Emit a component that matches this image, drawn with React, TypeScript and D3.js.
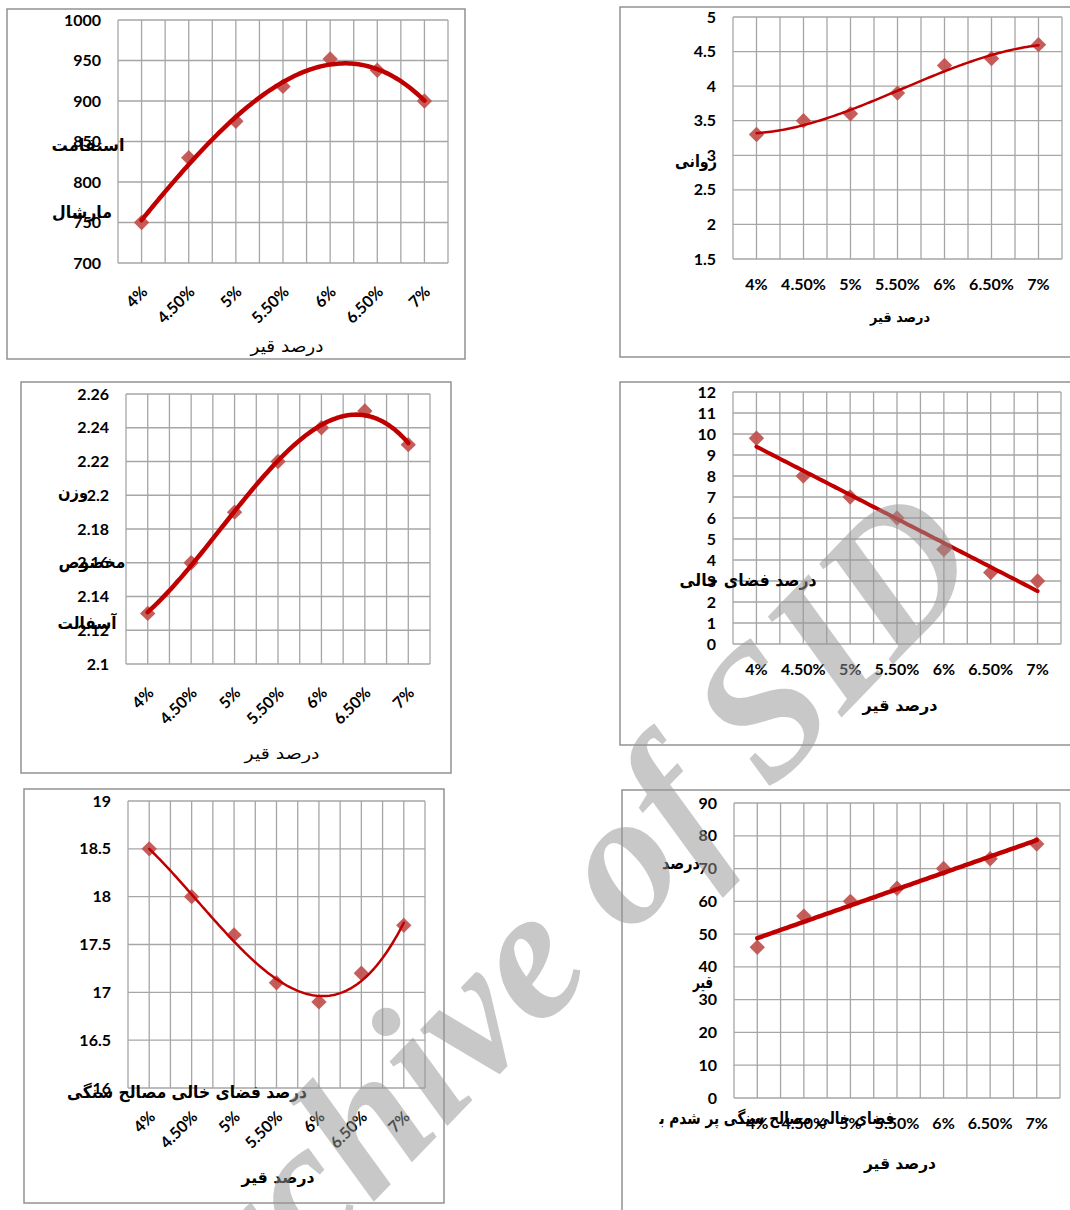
import React from 'react';
import * as d3 from 'd3';

// bitumen content (x axis of every chart)
const categories = ['4%', '4.50%', '5%', '5.50%', '6%', '6.50%', '7%'];

const marshallStability = [750, 830, 875, 918, 952, 938, 900];
const flowValues = [3.3, 3.5, 3.6, 3.9, 4.3, 4.4, 4.6];
const bulkDensity = [2.13, 2.16, 2.19, 2.22, 2.24, 2.25, 2.23];
const airVoids = [9.8, 8.0, 7.0, 6.0, 4.5, 3.4, 3.0];
const vmaValues = [18.5, 18.0, 17.6, 17.1, 16.9, 17.2, 17.7];
const vfaValues = [46, 55.5, 60, 64, 70, 73, 77.5];

// y tick labels
const stabilityTicks = [700, 750, 800, 850, 900, 950, 1000];
const flowTicks = [1.5, 2, 2.5, 3, 3.5, 4, 4.5, 5];
const densityTicks = [2.1, 2.12, 2.14, 2.16, 2.18, 2.2, 2.22, 2.24, 2.26];
const voidTicks = [0, 1, 2, 3, 4, 5, 6, 7, 8, 9, 10, 11, 12];
const vmaTicks = [16, 16.5, 17, 17.5, 18, 18.5, 19];
const vfaTicks = [0, 10, 20, 30, 40, 50, 60, 70, 80, 90];

const X_TITLE = 'درصد قیر';

const LATIN = 'Lato, "Open Sans", sans-serif';
const PERSIAN = '"DejaVu Sans", sans-serif';
const TREND = '#C00000';
const MARKER = 'rgba(192,80,77,0.92)';
const GRID = '#a6a6a6';

// least squares polynomial (trendline), x = category index
function polyFit(ys: number[], degree: number): number[] {
  const m = degree + 1;
  const A: number[][] = Array.from({ length: m }, () => new Array(m + 1).fill(0));
  ys.forEach((v, i) => {
    for (let r = 0; r < m; r++) {
      for (let c = 0; c < m; c++) A[r][c] += Math.pow(i, r + c);
      A[r][m] += Math.pow(i, r) * v;
    }
  });
  for (let p = 0; p < m; p++) {
    let best = p;
    for (let r = p + 1; r < m; r++) if (Math.abs(A[r][p]) > Math.abs(A[best][p])) best = r;
    [A[p], A[best]] = [A[best], A[p]];
    for (let r = 0; r < m; r++) {
      if (r === p) continue;
      const f = A[r][p] / A[p][p];
      for (let c = p; c <= m; c++) A[r][c] -= f * A[p][c];
    }
  }
  return A.map((row, i) => row[m] / row[i]);
}

type Label = { text: string; x: number; y: number; w: number; size?: number; bold?: boolean };

interface PanelCfg {
  frame: [number, number, number, number];
  plot: { x0: number; x1: number; y0: number; y1: number };
  values: number[];
  ticks: number[];
  degree: number;
  lineWidth: number;
  rotated: boolean;
  xTitle: Label;
  yTitles: Label[];
}

const panels: PanelCfg[] = [
  {
    frame: [7, 9, 458, 350],
    plot: { x0: 118, x1: 448, y0: 20, y1: 263 },
    values: marshallStability, ticks: stabilityTicks, degree: 3, lineWidth: 4.5, rotated: true,
    xTitle: { text: X_TITLE, x: 287, y: 346, w: 73, size: 17, bold: false },
    yTitles: [
      { text: 'استقامت', x: 88, y: 145, w: 73 },
      { text: 'مارشال', x: 82, y: 212, w: 60 },
    ],
  },
  {
    frame: [620, 7, 470, 350],
    plot: { x0: 733, x1: 1062, y0: 17, y1: 259 },
    values: flowValues, ticks: flowTicks, degree: 3, lineWidth: 2.5, rotated: false,
    xTitle: { text: X_TITLE, x: 900, y: 317, w: 60, size: 14 },
    yTitles: [{ text: 'روانی', x: 696, y: 161, w: 42 }],
  },
  {
    frame: [21, 382, 430, 391],
    plot: { x0: 126, x1: 430, y0: 394, y1: 664 },
    values: bulkDensity, ticks: densityTicks, degree: 3, lineWidth: 4.5, rotated: true,
    xTitle: { text: X_TITLE, x: 282, y: 753, w: 75, bold: false },
    yTitles: [
      { text: 'وزن', x: 73, y: 492, w: 30 },
      { text: 'مخصوص', x: 92, y: 562, w: 67 },
      { text: 'آسفالت', x: 87, y: 623, w: 59 },
    ],
  },
  {
    frame: [620, 382, 470, 363],
    plot: { x0: 733, x1: 1061, y0: 392, y1: 644 },
    values: airVoids, ticks: voidTicks, degree: 1, lineWidth: 4, rotated: false,
    xTitle: { text: X_TITLE, x: 900, y: 705, w: 75 },
    yTitles: [{ text: 'درصد فضای خالی', x: 748, y: 580, w: 137 }],
  },
  {
    frame: [24, 789, 420, 414],
    plot: { x0: 128, x1: 425, y0: 801, y1: 1088 },
    values: vmaValues, ticks: vmaTicks, degree: 3, lineWidth: 2.5, rotated: true,
    xTitle: { text: X_TITLE, x: 278, y: 1177, w: 73 },
    yTitles: [{ text: 'درصد فضای خالی مصالح سنگی', x: 187, y: 1092, w: 240 }],
  },
  {
    frame: [622, 790, 470, 440],
    plot: { x0: 734, x1: 1060, y0: 803, y1: 1098 },
    values: vfaValues, ticks: vfaTicks, degree: 1, lineWidth: 4.5, rotated: false,
    xTitle: { text: X_TITLE, x: 900, y: 1163, w: 72 },
    yTitles: [
      { text: 'درصد', x: 681, y: 863, w: 38 },
      { text: 'قیر', x: 703, y: 982, w: 20 },
      { text: 'فضای خالی مصالح سنگی پر شدم ب\u200d', x: 777, y: 1118, w: 235 },
    ],
  },
];

const PersianText: React.FC<{ l: Label; def: number }> = ({ l, def }) => (
  <text
    x={l.x}
    y={l.y}
    dy="0.35em"
    textAnchor="middle"
    fontFamily={PERSIAN}
    fontSize={l.size ?? def}
    fontWeight={l.bold === false ? 'normal' : 'bold'}
    textLength={l.w}
    lengthAdjust="spacingAndGlyphs"
    fill="#000"
  >
    {l.text}
  </text>
);

const Panel: React.FC<{ cfg: PanelCfg }> = ({ cfg }) => {
  const { frame, plot, values, ticks, degree, lineWidth, rotated } = cfg;
  const x = d3.scaleBand<string>().domain(categories).range([plot.x0, plot.x1]);
  const bw = x.bandwidth();
  const cx = (c: string) => (x(c) ?? 0) + bw / 2;
  const y = d3.scaleLinear().domain(d3.extent(ticks) as [number, number]).range([plot.y1, plot.y0]);
  const xi = d3.scaleLinear().domain([0, categories.length - 1]).range([cx(categories[0]), cx(categories[categories.length - 1])]);

  const coef = polyFit(values, degree);
  const fitted = (t: number) => coef.reduce((s, c, k) => s + c * Math.pow(t, k), 0);
  const trend = d3.line<number>().x((t) => xi(t)).y((t) => y(fitted(t)))(d3.range(0, categories.length - 1 + 1e-9, 0.05));

  const vLines = d3.range(0, categories.length * 2 + 1).map((k) => plot.x0 + (k * bw) / 2);
  const diamond = d3.symbol(d3.symbolSquare, 118)();

  return (
    <g>
      <rect x={frame[0]} y={frame[1]} width={frame[2]} height={frame[3]} fill="none" stroke="#8a8a8a" strokeWidth={1.4} />
      {ticks.map((t) => (
        <line key={'h' + t} x1={plot.x0} x2={plot.x1} y1={y(t)} y2={y(t)} stroke={GRID} strokeWidth={1.3} />
      ))}
      {vLines.map((vx, k) => (
        <line key={'v' + k} x1={vx} x2={vx} y1={plot.y0} y2={plot.y1} stroke={GRID} strokeWidth={1.3} />
      ))}
      {ticks.map((t) => (
        <text key={'t' + t} x={plot.x0 - 17} y={y(t)} dy="0.35em" textAnchor="end" fontFamily={LATIN} fontWeight="bold" fontSize={16} fill="#000">
          {String(t)}
        </text>
      ))}
      {categories.map((c) =>
        rotated ? (
          <text key={c} transform={`translate(${cx(c) + 3},${plot.y1 + 26}) rotate(-45)`} dy="0.35em" textAnchor="end" fontFamily={LATIN} fontWeight="bold" fontSize={16} fill="#000">
            {c}
          </text>
        ) : (
          <text key={c} x={cx(c)} y={plot.y1 + 25} dy="0.35em" textAnchor="middle" fontFamily={LATIN} fontWeight="bold" fontSize={16} fill="#000">
            {c}
          </text>
        )
      )}
      {values.map((v, i) => (
        <path key={'m' + i} d={diamond ?? ''} transform={`translate(${cx(categories[i])},${y(v)}) rotate(45)`} fill={MARKER} />
      ))}
      <path d={trend ?? ''} fill="none" stroke={TREND} strokeWidth={lineWidth} strokeLinejoin="round" strokeLinecap="round" />
      <PersianText l={cfg.xTitle} def={16} />
      {cfg.yTitles.map((l, i) => (
        <PersianText key={i} l={l} def={17} />
      ))}
    </g>
  );
};

export default function App() {
  return (
    <div style={{ position: 'absolute', left: 0, top: 0 }}>
      <svg width={1070} height={1210} style={{ display: 'block', background: '#fff' }}>
        {panels.map((p, i) => (
          <Panel key={i} cfg={p} />
        ))}
        <text
          transform="translate(988,566) rotate(-46)"
          textAnchor="end"
          fontFamily='"Liberation Serif", serif'
          fontStyle="italic"
          fontWeight="bold"
          fontSize={188}
          fill="rgb(150,150,150)"
          fillOpacity={0.52}
        >
          Archive of SID
        </text>
      </svg>
    </div>
  );
}
